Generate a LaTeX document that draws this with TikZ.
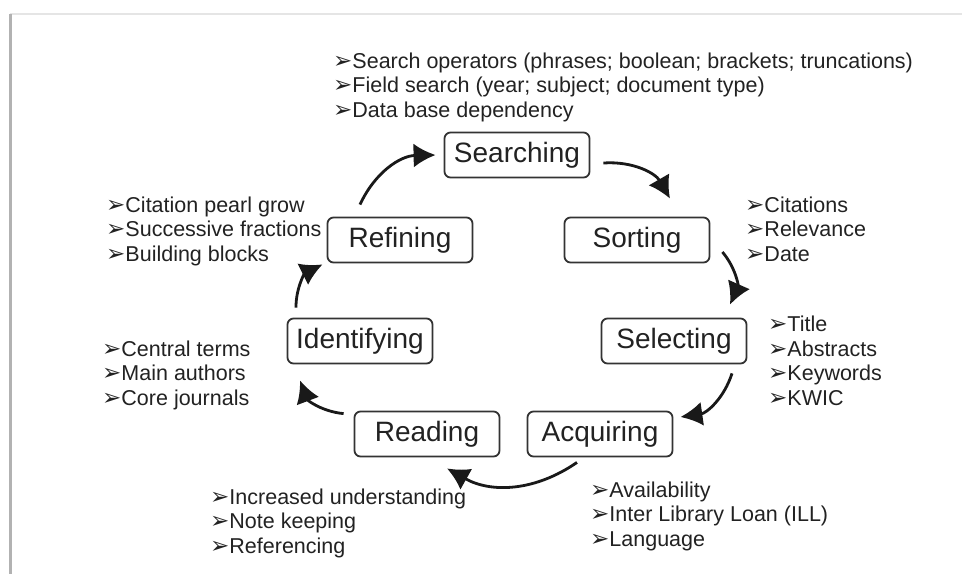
\documentclass[tikz,border=0pt]{standalone}
\usepackage{fontspec}
\setmainfont{Liberation Sans}
\newfontfamily\symfont{DejaVu Sans}
\usetikzlibrary{arrows.meta}
\definecolor{tinta}{HTML}{222222}
\definecolor{marc}{HTML}{333333}
\newcommand{\arrowbullet}{{\symfont\fontsize{23}{23}\selectfont ➢}}
\tikzset{
  stage/.style={draw=marc, line width=1.8pt, rounded corners=6pt, fill=white,
    minimum width=145pt, minimum height=45pt, inner sep=0pt, text=tinta,
    font=\fontsize{28}{30}\selectfont},
  notes/.style={anchor=base west, align=left, inner sep=0pt, text=tinta,
    font=\fontsize{21.5}{24.5}\selectfont},
  flow/.style={-{Latex[length=22pt,width=24pt]}, line width=2.8pt, draw=black!90,
    bend left=32},
}

\begin{document}
\begin{tikzpicture}[x=1pt,y=-1pt]
  \useasboundingbox (0,0) rectangle (962,574);
  \fill[white] (0,0) rectangle (962,574);

  % Marc de la figura.
  \draw[black!10, line width=1.5pt] (10,14) -- (962,14);
  \draw[black!30, line width=2.5pt] (10.5,14) -- (10.5,574);

  % Etapes del cicle.
  \node[stage] (searching)   at (517,155) {Searching};
  \node[stage] (sorting)     at (637,240) {Sorting};
  \node[stage] (selecting)   at (674,341) {Selecting};
  \node[stage] (acquiring)   at (600,434) {Acquiring};
  \node[stage] (reading)     at (427,434) {Reading};
  \node[stage] (identifying) at (360,341) {Identifying};
  \node[stage] (refining)    at (400,240) {Refining};

  % Fletxes corbes entre etapes.
  \draw[flow] ([xshift=13pt,yshift=-8pt]searching.east) to ([xshift=33pt,yshift=18pt]sorting.north);
  \draw[flow] ([xshift=12pt,yshift=-12pt]sorting.east) to ([xshift=56pt,yshift=13pt]selecting.north);
  \draw[flow] ([xshift=58pt,yshift=-9pt]selecting.south) to ([xshift=7pt,yshift=17pt]acquiring.east);
  \draw[flow] ([xshift=-23pt,yshift=-5pt]acquiring.south) to ([xshift=20pt,yshift=-11pt]reading.south);
  \draw[flow] ([xshift=-10pt,yshift=-3pt]reading.north west) to ([xshift=-60pt,yshift=-16pt]identifying.south);
  \draw[flow] ([xshift=-64pt,yshift=10pt]identifying.north) to ([xshift=-4pt,yshift=-1pt]refining.south west);
  \draw[flow] ([xshift=-40pt,yshift=12pt]refining.north) to ([xshift=-8pt]searching.west);

  % Llistes de cada etapa (ancorades a la base de la darrera línia).
  \node[notes] (searchnotes) at (333,117)
    {\arrowbullet Search operators (phrases; boolean; brackets; truncations)\\
     \arrowbullet Field search (year; subject; document type)\\
     \arrowbullet Data base dependency};
  \node[notes] (sortnotes) at (745,261)
    {\arrowbullet Citations\\ \arrowbullet Relevance\\ \arrowbullet Date};
  \node[notes] (selectnotes) at (768,405)
    {\arrowbullet Title\\ \arrowbullet Abstracts\\ \arrowbullet Keywords\\ \arrowbullet KWIC};
  \node[notes] (acquirenotes) at (590,546)
    {\arrowbullet Availability\\ \arrowbullet Inter Library Loan (ILL)\\ \arrowbullet Language};
  \node[notes] (readnotes) at (210,553)
    {\arrowbullet Increased understanding\\ \arrowbullet Note keeping\\ \arrowbullet Referencing};
  \node[notes] (identnotes) at (102,405)
    {\arrowbullet Central terms\\ \arrowbullet Main authors\\ \arrowbullet Core journals};
  \node[notes] (refinenotes) at (106,261)
    {\arrowbullet Citation pearl grow\\ \arrowbullet Successive fractions\\ \arrowbullet Building blocks};
\end{tikzpicture}
\end{document}
